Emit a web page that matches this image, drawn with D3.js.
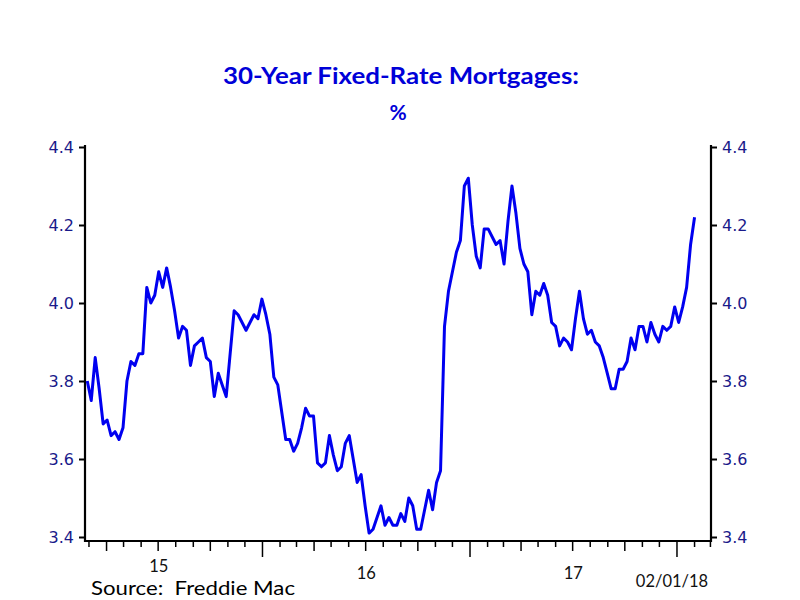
<!DOCTYPE html>
<html>
<head>
<meta charset="utf-8">
<script src="https://cdn.jsdelivr.net/npm/d3@7"></script>
<style>
  html, body { margin: 0; padding: 0; background: #fff; }
  svg { display: block; }
</style>
</head>
<body>
<svg id="chart" width="800" height="600"></svg>
<script>
// ---- Data (weekly Freddie Mac PMMS 30-year fixed rate, %) ----
const firstWeek = "2015-02-26";   // first weekly observation (Thursday)
const lastWeek  = "2018-02-01";   // last weekly observation
const rates2015 = [3.80, 3.75, 3.86, 3.78, 3.69, 3.70, 3.66, 3.67, 3.65, 3.68,
                   3.80, 3.85, 3.84, 3.87, 3.87, 4.04, 4.00, 4.02, 4.08, 4.04,
                   4.09, 4.04, 3.98, 3.91, 3.94, 3.93, 3.84, 3.89, 3.90, 3.91,
                   3.86, 3.85, 3.76, 3.82, 3.79, 3.76, 3.87, 3.98, 3.97, 3.95,
                   3.93, 3.95, 3.97, 3.96, 4.01];
const rates2016 = [3.97, 3.92, 3.81, 3.79, 3.72, 3.65, 3.65, 3.62, 3.64, 3.68,
                   3.73, 3.71, 3.71, 3.59, 3.58, 3.59, 3.66, 3.61, 3.57, 3.58,
                   3.64, 3.66, 3.60, 3.54, 3.56, 3.48, 3.41, 3.42, 3.45, 3.48,
                   3.43, 3.45, 3.43, 3.43, 3.46, 3.44, 3.50, 3.48, 3.42, 3.42,
                   3.47, 3.52, 3.47, 3.54, 3.57, 3.94, 4.03, 4.08, 4.13, 4.16,
                   4.30, 4.32];
const rates2017 = [4.20, 4.12, 4.09, 4.19, 4.19, 4.17, 4.15, 4.16, 4.10, 4.21,
                   4.30, 4.23, 4.14, 4.10, 4.08, 3.97, 4.03, 4.02, 4.05, 4.02,
                   3.95, 3.94, 3.89, 3.91, 3.90, 3.88, 3.96, 4.03, 3.96, 3.92,
                   3.93, 3.90, 3.89, 3.86, 3.82, 3.78, 3.78, 3.83, 3.83, 3.85,
                   3.91, 3.88, 3.94, 3.94, 3.90, 3.95, 3.92, 3.90, 3.94, 3.93,
                   3.94, 3.99];
const rates2018 = [3.95, 3.99, 4.04, 4.15, 4.22];

const yTicks = [3.4, 3.6, 3.8, 4.0, 4.2, 4.4];
const yearLabels = ["15", "16", "17"];
const yearLabelDates = ["2015-07-02", "2016-07-02", "2017-07-02"];
const titleText = "30-Year Fixed-Rate Mortgages:";
const subtitleText = "%";
const sourceText = "Source:  Freddie Mac";
const dateStamp = "02/01/18";

// ---- Build series ----
const parse = d3.utcParse("%Y-%m-%d");
const values = [...rates2015, ...rates2016, ...rates2017, ...rates2018];
const weeks = d3.utcThursday.range(parse(firstWeek), d3.utcDay.offset(parse(lastWeek), 1));
const data = weeks.map((d, i) => ({ date: d, value: values[i] }));

// ---- Layout ----
const svg = d3.select("#chart");
const mLeft = 85, mRight = 711, mTop = 145, mBottom = 541;
const x = d3.scaleUtc()
  .domain([parse("2015-02-22"), parse("2018-03-02")])
  .range([mLeft, mRight]);
const y = d3.scaleLinear().domain([3.4, 4.4]).range([537, 147]);

const tickColor = "#1a1a8a";
const fontTicks = "'DejaVu Sans', Verdana, sans-serif";
const fontText = "Lato, 'Open Sans', sans-serif";

// Title
svg.append("text")
  .attr("x", 401).attr("y", 84)
  .attr("text-anchor", "middle")
  .attr("font-family", fontText).attr("font-weight", "bold")
  .attr("font-size", 23).attr("fill", "#0000d8")
  .attr("textLength", 356).attr("lengthAdjust", "spacingAndGlyphs")
  .text(titleText);
svg.append("text")
  .attr("x", 398).attr("y", 120)
  .attr("text-anchor", "middle")
  .attr("font-family", fontText).attr("font-weight", "bold")
  .attr("font-size", 21).attr("fill", "#0000d8")
  .text(subtitleText);

// Y axes
const yAxisL = d3.axisLeft(y).tickValues(yTicks).tickFormat(d3.format(".1f")).tickSize(6).tickPadding(5);
const yAxisR = d3.axisRight(y).tickValues(yTicks).tickFormat(d3.format(".1f")).tickSize(6).tickPadding(5);

function styleAxis(g) {
  g.select(".domain").remove();
  g.selectAll(".tick line").attr("stroke", "#000").attr("stroke-width", 2);
  g.selectAll(".tick text")
    .attr("fill", tickColor)
    .attr("font-family", fontTicks)
    .attr("font-size", 16);
}
svg.append("g").attr("transform", `translate(${mLeft},0)`).call(yAxisL).call(styleAxis);
svg.append("g").attr("transform", `translate(${mRight},0)`).call(yAxisR).call(styleAxis);

// X axis ticks: monthly minor, quarterly medium, yearly major
const months = d3.utcMonth.range(d3.utcMonth.ceil(x.domain()[0]), x.domain()[1]);
svg.append("g").selectAll("line")
  .data(months)
  .join("line")
  .attr("x1", d => x(d)).attr("x2", d => x(d))
  .attr("y1", mBottom)
  .attr("y2", d => mBottom + (d.getUTCMonth() === 0 ? 16 : (d.getUTCMonth() % 3 === 0 ? 10 : 6)))
  .attr("stroke", "#000").attr("stroke-width", 1.5);

// Frame lines (left, bottom, right)
svg.append("path")
  .attr("d", `M${mLeft},${mTop}V${mBottom}H${mRight}V${mTop}`)
  .attr("fill", "none").attr("stroke", "#000").attr("stroke-width", 2.2);

// Year labels
svg.append("g").selectAll("text")
  .data(yearLabels)
  .join("text")
  .attr("x", (d, i) => x(parse(yearLabelDates[i])))
  .attr("y", (d, i) => i === 0 ? 572 : 579)
  .attr("text-anchor", "middle")
  .attr("font-family", fontText).attr("font-size", 16.5).attr("fill", "#111")
  .text(d => d);

// Line
const line = d3.line().x(d => x(d.date)).y(d => y(d.value));
svg.append("path")
  .datum(data)
  .attr("d", line)
  .attr("fill", "none")
  .attr("stroke", "#0000f0")
  .attr("stroke-width", 3)
  .attr("stroke-linejoin", "round");

// Source and date stamp
svg.append("text")
  .attr("x", 91).attr("y", 595)
  .attr("font-family", fontText).attr("font-size", 19.5).attr("fill", "#000")
  .attr("textLength", 204).attr("lengthAdjust", "spacingAndGlyphs")
  .attr("xml:space", "preserve")
  .style("white-space", "pre")
  .text(sourceText);
svg.append("text")
  .attr("x", 672).attr("y", 587)
  .attr("text-anchor", "middle")
  .attr("font-family", fontText).attr("font-size", 16.5).attr("fill", "#111")
  .text(dateStamp);
</script>
</body>
</html>
